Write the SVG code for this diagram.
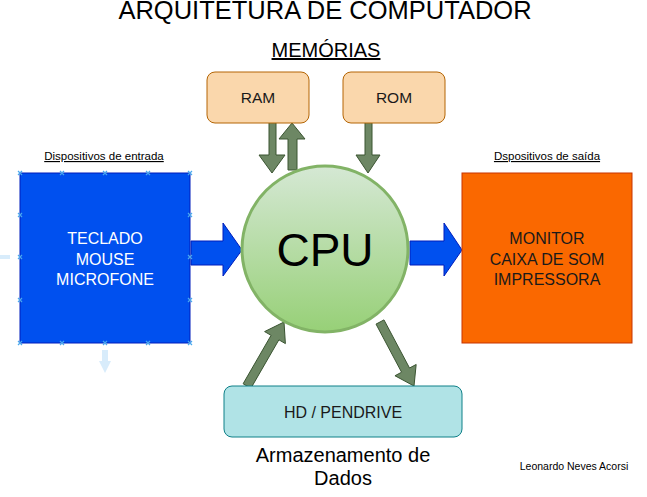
<svg xmlns="http://www.w3.org/2000/svg" xmlns:xlink="http://www.w3.org/1999/xlink" width="647" height="497" viewBox="0 0 647 497">
<defs>
<linearGradient id="cpuGrad" x1="0" y1="0" x2="0" y2="1">
<stop offset="0" stop-color="#d5e8d4"/>
<stop offset="1" stop-color="#97d077"/>
</linearGradient>
<path id="hx" d="M-2,-2 L2,2 M-2,2 L2,-2" stroke="#4aa8ee" stroke-width="1.2" fill="none"/>
</defs>
<style>
text{font-family:"Liberation Sans",Arial,sans-serif;text-anchor:middle}
.mem{fill:#fad7ac;stroke:#b46504;stroke-width:1}
.ga{fill:#6d8764;stroke:#3a5431;stroke-width:1}
.ba{fill:#0050ef;stroke:#001dbc;stroke-width:1}
.lbl{font-size:15.5px;fill:#1a1a1a}
.big{font-size:16px}
.small{font-size:11.5px;text-decoration:underline;fill:#000}
</style>
<rect width="647" height="497" fill="#ffffff"/>
<text x="325" y="19" font-size="25.5" fill="#000">ARQUITETURA DE COMPUTADOR</text>
<text x="326" y="57" font-size="20" fill="#000" text-decoration="underline">MEMÓRIAS</text>
<text class="small" x="104" y="160">Dispositivos de entrada</text>
<text class="small" x="547" y="160">Dspositivos de saída</text>

<g id="hover-hints" fill="#d8ecfb">
<rect x="0" y="255" width="10" height="4"/>
<path d="M102,350 L108,350 L108,361 L111,361 L105,373 L99,361 L102,361 Z"/>
</g>

<g id="connectors">
<path class="ga" d="M269,122 L276,122 L276,155 L285,155 L272,173 L259,155 L269,155 Z"/>
<path class="ga" d="M288,170 L297,170 L297,139 L305,139 L292,123 L279,139 L288,139 Z"/>
<path class="ga" d="M365,122 L372,122 L372,155 L380,155 L368,173 L356,155 L365,155 Z"/>
<path class="ga" d="M243.1,383.75 L271.09,335.34 L264.6,331.58 L284,322 L285.38,343.6 L278.89,339.84 L250.9,388.25 Z"/>
<path class="ga" d="M383.97,319.89 L409.53,368 L416.16,364.48 L414,386 L394.96,375.74 L401.59,372.22 L376.03,324.11 Z"/>
<path class="ba" d="M191,241 L223,241 L223,223 L242,250 L223,276 L223,265 L191,265 Z"/>
<path class="ba" d="M410,241 L444,241 L444,223 L462,250 L444,276 L444,265 L410,265 Z"/>
</g>

<g id="ram">
<rect class="mem" x="207" y="72" width="102" height="51" rx="8"/>
<text class="lbl" x="258" y="103">RAM</text>
</g>
<g id="rom">
<rect class="mem" x="343" y="72" width="102" height="51" rx="8"/>
<text class="lbl" x="394" y="103">ROM</text>
</g>

<g id="cpu">
<circle cx="325" cy="249" r="83" fill="url(#cpuGrad)" stroke="#82b366" stroke-width="3"/>
<text x="325" y="266" font-size="46" fill="#000">CPU</text>
</g>

<g id="entrada">
<rect x="20" y="173" width="170" height="170" fill="#0050ef" stroke="#001dbc"/>
<text class="big" x="105" y="244" fill="#ffffff">TECLADO</text>
<text class="big" x="105" y="265" fill="#ffffff">MOUSE</text>
<text class="big" x="105" y="285" fill="#ffffff">MICROFONE</text>
<g id="handles">
<use xlink:href="#hx" x="20" y="173"/><use xlink:href="#hx" x="62" y="173"/><use xlink:href="#hx" x="105" y="173"/><use xlink:href="#hx" x="148" y="173"/><use xlink:href="#hx" x="190" y="173"/>
<use xlink:href="#hx" x="20" y="343"/><use xlink:href="#hx" x="62" y="343"/><use xlink:href="#hx" x="105" y="343"/><use xlink:href="#hx" x="148" y="343"/><use xlink:href="#hx" x="190" y="343"/>
<use xlink:href="#hx" x="20" y="215"/><use xlink:href="#hx" x="20" y="257"/><use xlink:href="#hx" x="20" y="300"/>
<use xlink:href="#hx" x="190" y="215"/><use xlink:href="#hx" x="190" y="257"/><use xlink:href="#hx" x="190" y="300"/>
</g>
</g>

<g id="saida">
<rect x="462" y="173" width="170" height="170" fill="#fa6800" stroke="#c73500"/>
<text class="big" x="547" y="244" fill="#1a1a1a">MONITOR</text>
<text class="big" x="547" y="265" fill="#1a1a1a">CAIXA DE SOM</text>
<text class="big" x="547" y="285" fill="#1a1a1a">IMPRESSORA</text>
</g>

<g id="armazenamento">
<rect x="224" y="386" width="238" height="51" rx="8" fill="#b0e3e6" stroke="#0e8088"/>
<text class="big" x="343" y="418" fill="#1a1a1a">HD / PENDRIVE</text>
</g>
<text x="343" y="462" font-size="20" fill="#000">Armazenamento de</text>
<text x="343" y="485" font-size="20" fill="#000">Dados</text>
<text x="574" y="470" font-size="10.5" fill="#000">Leonardo Neves Acorsi</text>
</svg>
